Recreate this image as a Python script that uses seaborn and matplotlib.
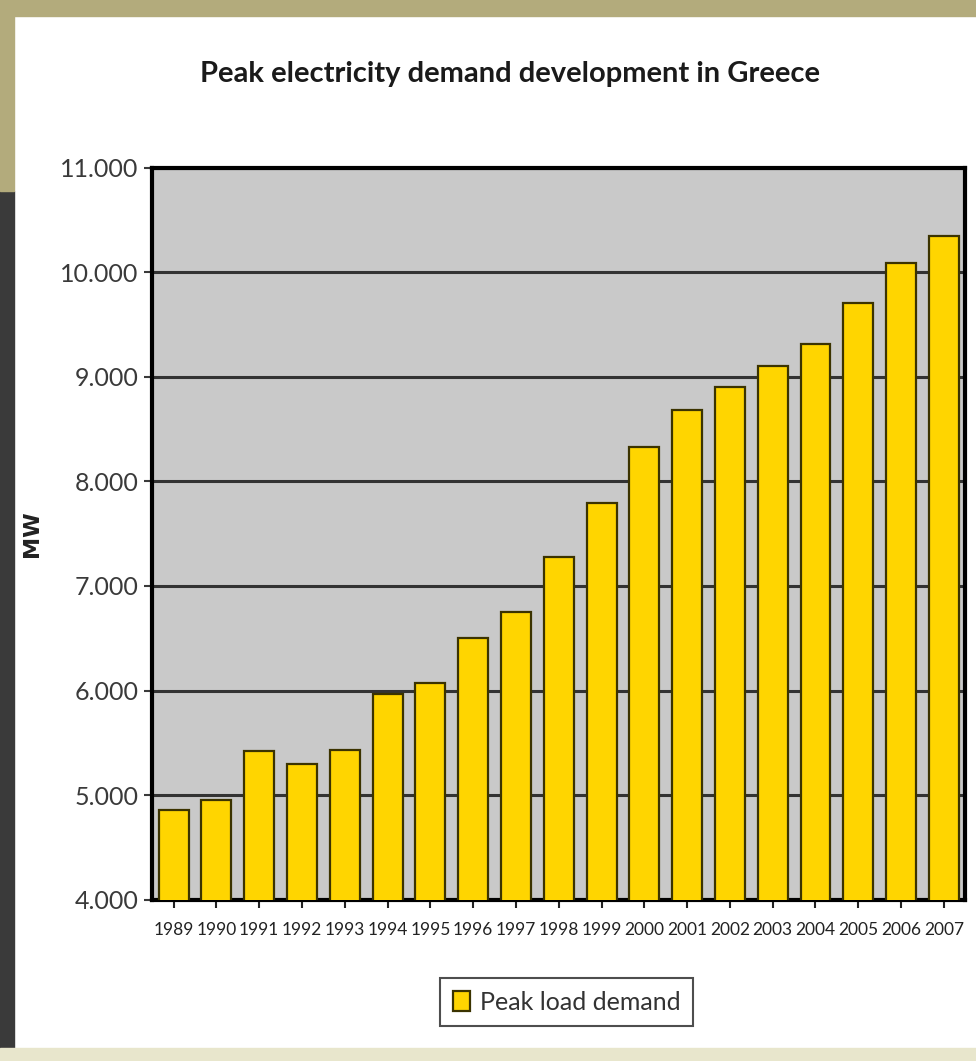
import matplotlib
matplotlib.use("Agg")
import matplotlib.pyplot as plt
import matplotlib.patches as mpatches
from matplotlib.ticker import FuncFormatter
import seaborn as sns
import pandas as pd

years = ["1989", "1990", "1991", "1992", "1993", "1994", "1995", "1996", "1997", "1998",
         "1999", "2000", "2001", "2002", "2003", "2004", "2005", "2006", "2007"]
peak_mw = [4860, 4950, 5420, 5300, 5430, 5970, 6070, 6500, 6750, 7280,
           7790, 8330, 8680, 8900, 9100, 9310, 9710, 10090, 10350]
y_ticks = [4000, 5000, 6000, 7000, 8000, 9000, 10000, 11000]
series_name = "Peak load demand"
title = "Peak electricity demand development in Greece"
y_label = "MW"

sns.set_theme(style="white")
plt.rcParams['font.family'] = ['Lato', 'DejaVu Sans']

df = pd.DataFrame({"year": years, "value": peak_mw, "series": series_name})

fig = plt.figure(figsize=(9.76, 10.61), dpi=100, facecolor="white")
# frame decoration resembling the photographed slide
fig.patches.append(mpatches.Rectangle((0, 0.985), 1, 0.015, transform=fig.transFigure,
                                      color="#b3ab7c", zorder=0))
fig.patches.append(mpatches.Rectangle((0, 0), 0.014, 0.82, transform=fig.transFigure,
                                      color="#3a3a3a", zorder=0))
fig.patches.append(mpatches.Rectangle((0, 0.82), 0.014, 0.18, transform=fig.transFigure,
                                      color="#b3ab7c", zorder=0))
fig.patches.append(mpatches.Rectangle((0, 0), 1, 0.012, transform=fig.transFigure,
                                      color="#e8e6cc", zorder=0))

ax = fig.add_axes([0.156, 0.152, 0.833, 0.69])
ax.set_facecolor("#c9c9c9")

sns.barplot(data=df, x="year", y="value", hue="series", palette=["#FFD500"],
            saturation=1, width=0.7, edgecolor="#3b3300", linewidth=1.6, ax=ax, zorder=3)

ax.set_ylim(4000, 11000)
ax.set_yticks(y_ticks)
ax.yaxis.set_major_formatter(FuncFormatter(lambda v, p: f"{int(v):,}".replace(",", ".")))
ax.grid(axis="y", color="#333333", linewidth=2.2, zorder=1)
ax.set_axisbelow(True)
for s in ax.spines.values():
    s.set_visible(True)
    s.set_color("black")
    s.set_linewidth(3)

ax.tick_params(axis="y", labelsize=18, colors="#3a3a3a", length=6, width=1.5,
               direction="out", left=True, pad=4)
ax.tick_params(axis="x", labelsize=12.5, colors="#222222", length=6, width=1.5,
               direction="out", bottom=True, pad=10)
ax.set_xlabel("")
ax.set_ylabel(y_label, fontsize=16, fontweight="bold", color="#222222",
              family=["DejaVu Sans"])
ax.yaxis.set_label_coords(-0.135, 0.5)

fig.text(0.523, 0.930, title, ha="center", va="center", fontsize=21,
         fontweight="bold", color="#1a1a1a")

leg = ax.legend(loc="upper center", bbox_to_anchor=(0.51, -0.09), frameon=True,
                fontsize=18, handlelength=0.7, handleheight=0.9, handletextpad=0.4,
                borderpad=0.5, fancybox=False)
leg.get_frame().set_edgecolor("#222222")
leg.get_frame().set_linewidth(1.5)
for t in leg.get_texts():
    t.set_color("#333333")

fig.savefig("out.png", dpi=100, facecolor=fig.get_facecolor())
